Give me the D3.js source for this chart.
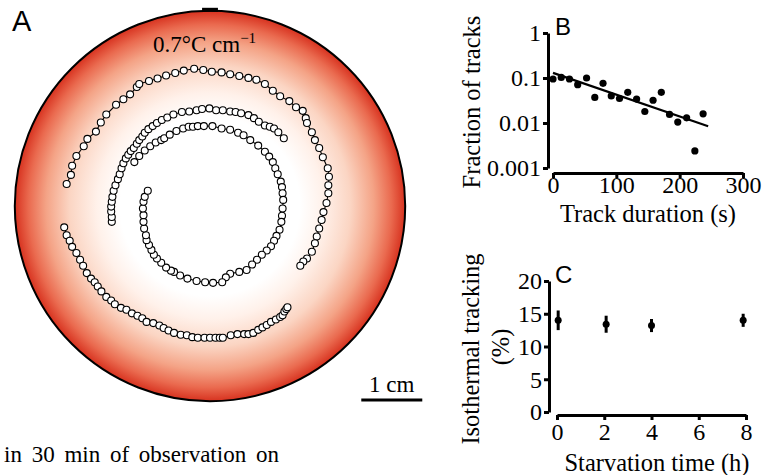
<!DOCTYPE html>
<html>
<head>
<meta charset="utf-8">
<script src="https://cdn.jsdelivr.net/npm/d3@7"></script>
<style>
body { margin: 0; background: #fff; }
svg text { font-family: "Liberation Serif", "Times New Roman", serif; fill: #000; }
.panel-label { font-family: "Liberation Sans", Arial, sans-serif; }
.axis .domain, .axis line { stroke: #000; stroke-width: 3; }
.axis text { font-family: "Liberation Serif", "Times New Roman", serif; font-size: 24px; }
</style>
</head>
<body>
<svg id="fig" width="780" height="475"></svg>
<script>
// ---- panel A: tracks on the plate, positions in cm from plate centre (y up)
var plateRadius = 3.2;
var track1 = [[-2.35,0.36],[-2.28,0.51],[-2.26,0.66],[-2.19,0.82],[-2.07,0.98],[-2.01,1.10],[-1.87,1.22],[-1.79,1.37],[-1.70,1.50],[-1.54,1.66],[-1.42,1.75],[-1.31,1.83],[-1.20,1.95],[-1.16,2.00],[-1.00,2.05],[-0.86,2.09],[-0.72,2.14],[-0.57,2.18],[-0.43,2.22],[-0.26,2.25],[-0.11,2.23],[0.03,2.20],[0.19,2.19],[0.33,2.16],[0.48,2.13],[0.63,2.10],[0.76,2.07],[0.90,2.00],[1.03,1.89],[1.15,1.80],[1.30,1.72],[1.41,1.62],[1.52,1.56],[1.57,1.44],[1.59,1.36],[1.67,1.21],[1.72,1.08],[1.79,0.95],[1.85,0.80],[1.93,0.62],[1.95,0.48],[1.94,0.34],[1.94,0.21],[1.91,0.05],[1.86,-0.10],[1.83,-0.23],[1.79,-0.37],[1.75,-0.50],[1.72,-0.61],[1.67,-0.75],[1.59,-0.86],[1.53,-0.91],[1.48,-0.98]];
var track2 = [[-1.61,-0.26],[-1.61,-0.18],[-1.62,-0.09],[-1.62,-0.01],[-1.61,0.07],[-1.60,0.15],[-1.58,0.25],[-1.55,0.34],[-1.51,0.44],[-1.48,0.52],[-1.45,0.62],[-1.42,0.70],[-1.38,0.78],[-1.34,0.84],[-1.30,0.90],[-1.25,0.95],[-1.20,1.02],[-1.16,1.08],[-1.11,1.14],[-1.07,1.20],[-1.01,1.26],[-0.94,1.31],[-0.87,1.36],[-0.79,1.41],[-0.70,1.45],[-0.60,1.50],[-0.46,1.54],[-0.34,1.55],[-0.22,1.57],[-0.13,1.59],[-0.01,1.60],[0.10,1.57],[0.21,1.57],[0.33,1.55],[0.42,1.54],[0.51,1.52],[0.63,1.49],[0.72,1.44],[0.80,1.38],[0.90,1.32],[0.98,1.30],[1.05,1.27],[1.12,1.21],[1.21,1.11]];
var track3 = [[-1.24,0.72],[-1.16,0.82],[-1.07,0.91],[-0.98,0.98],[-0.89,1.04],[-0.80,1.08],[-0.75,1.11],[-0.66,1.17],[-0.55,1.23],[-0.44,1.27],[-0.35,1.30],[-0.28,1.30],[-0.20,1.31],[-0.10,1.31],[0.04,1.31],[0.19,1.27],[0.33,1.25],[0.46,1.20],[0.55,1.16],[0.66,1.08],[0.79,0.99],[0.90,0.89],[0.97,0.81],[1.03,0.72],[1.07,0.62],[1.11,0.52],[1.16,0.40],[1.18,0.31],[1.19,0.21],[1.20,0.10],[1.19,-0.04],[1.18,-0.16],[1.17,-0.26],[1.14,-0.39],[1.09,-0.49],[1.05,-0.57],[1.00,-0.66],[0.93,-0.73],[0.85,-0.80],[0.77,-0.88],[0.69,-0.96],[0.60,-1.05],[0.48,-1.08],[0.33,-1.11],[0.26,-1.17],[0.20,-1.25],[0.05,-1.26],[-0.08,-1.25],[-0.22,-1.23],[-0.37,-1.19],[-0.49,-1.14],[-0.59,-1.08],[-0.64,-1.06],[-0.72,-1.01],[-0.80,-0.93],[-0.87,-0.86],[-0.92,-0.80],[-0.96,-0.72],[-1.00,-0.64],[-1.04,-0.56],[-1.05,-0.48],[-1.08,-0.37],[-1.09,-0.26],[-1.09,-0.15],[-1.10,-0.04],[-1.09,0.07],[-1.07,0.15],[-1.02,0.25]];
var track4 = [[-2.39,-0.35],[-2.35,-0.48],[-2.30,-0.57],[-2.26,-0.67],[-2.19,-0.77],[-2.13,-0.88],[-2.08,-0.98],[-2.02,-1.10],[-1.95,-1.19],[-1.89,-1.25],[-1.84,-1.32],[-1.78,-1.40],[-1.70,-1.49],[-1.62,-1.55],[-1.56,-1.61],[-1.46,-1.67],[-1.37,-1.70],[-1.28,-1.76],[-1.19,-1.80],[-1.11,-1.84],[-1.04,-1.90],[-0.93,-1.92],[-0.83,-1.96],[-0.76,-2.00],[-0.68,-2.04],[-0.59,-2.08],[-0.48,-2.11],[-0.38,-2.12],[-0.29,-2.15],[-0.20,-2.16],[-0.09,-2.16],[0.00,-2.16],[0.09,-2.16],[0.16,-2.16],[0.21,-2.16],[0.34,-2.12],[0.45,-2.10],[0.56,-2.10],[0.63,-2.10],[0.71,-2.08],[0.79,-2.03],[0.86,-1.99],[0.93,-1.95],[1.00,-1.90],[1.08,-1.86],[1.15,-1.82],[1.19,-1.79],[1.22,-1.73],[1.25,-1.69],[1.27,-1.66]];

// ---- panel B: track duration distribution
var durationB = [0,13,26,39,53,66,79,92,105,118,132,145,158,171,184,197,211,224,237];
var fractionB = [0.095,0.103,0.095,0.071,0.1,0.037,0.076,0.04,0.035,0.048,0.034,0.018,0.032,0.048,0.0155,0.0105,0.013,0.0024,0.016];
var fitB = [[0,0.13],[245,0.0085]];
var yTicksB = [1,0.1,0.01,0.001];
var yTickLabelsB = ['1','0.1','0.01','0.001'];
var xTicksB = [0,100,200,300];

// ---- panel C: isothermal tracking vs starvation
var starvationC = [0.05,2.08,4,7.88];
var trackingC = [14.0,13.4,13.2,14.0];
var errorC = [1.5,1.3,1.0,1.0];
var yTicksC = [0,5,10,15,20];
var xTicksC = [0,2,4,6,8];

var svg = d3.select('#fig');

// ================= A =================
var cx = 210, cy = 206, pxPerCm = 61;
var xs = d3.scaleLinear().domain([-1, 1]).range([cx - pxPerCm, cx + pxPerCm]);
var ys = d3.scaleLinear().domain([-1, 1]).range([cy + pxPerCm, cy - pxPerCm]);

var grad = svg.append('defs').append('radialGradient').attr('id', 'plateGrad')
    .attr('cx', '50%').attr('cy', '50%').attr('r', '50%');
[[0, '#ffffff'], [0.46, '#ffffff'], [0.58, '#fff1ea'], [0.72, '#fbd5c3'], [0.84, '#f4a386'], [0.93, '#ea6a4f'], [1, '#d7321f']]
    .forEach(function(s) {
        grad.append('stop').attr('offset', s[0]).attr('stop-color', s[1]);
    });

svg.append('circle')
    .attr('cx', xs(0)).attr('cy', ys(0))
    .attr('r', xs(plateRadius) - xs(0))
    .attr('fill', 'url(#plateGrad)')
    .attr('stroke', '#000').attr('stroke-width', 2);

svg.append('rect')
    .attr('x', xs(-0.13)).attr('y', ys(plateRadius) - 3)
    .attr('width', xs(0.13) - xs(-0.13)).attr('height', 4)
    .attr('fill', '#000');

var trackLine = d3.line()
    .x(function(d) { return xs(d[0]); })
    .y(function(d) { return ys(d[1]); });

[track1, track2, track3, track4].forEach(function(tr) {
    var g = svg.append('g');
    g.append('path').datum(tr)
        .attr('fill', 'none').attr('stroke', '#000').attr('stroke-width', 1.1)
        .attr('d', trackLine);
    g.selectAll('circle').data(tr).enter().append('circle')
        .attr('cx', function(d) { return xs(d[0]); })
        .attr('cy', function(d) { return ys(d[1]); })
        .attr('r', 3.5)
        .attr('fill', '#fff').attr('stroke', '#000').attr('stroke-width', 1.1);
});

var grad_t = svg.append('text').attr('x', 153).attr('y', 52).style('font-size', '23px');
grad_t.append('tspan').text('0.7°C cm');
grad_t.append('tspan').attr('dy', -9).style('font-size', '15px').text('−1');

// scale bar 1 cm
svg.append('line')
    .attr('x1', xs(2.48)).attr('x2', xs(3.48))
    .attr('y1', 400).attr('y2', 400)
    .attr('stroke', '#000').attr('stroke-width', 3);
svg.append('text').attr('x', xs(2.98)).attr('y', 392)
    .attr('text-anchor', 'middle').style('font-size', '23px').text('1 cm');

svg.append('text').attr('class', 'panel-label')
    .attr('x', 12).attr('y', 31).style('font-size', '29px').text('A');

svg.append('text').attr('x', 4).attr('y', 462)
    .style('font-size', '23px').style('word-spacing', '4px')
    .text('in 30 min of observation on');

// ================= B =================
var xB = d3.scaleLinear().domain([0, 300]).range([553, 743]);
var yB = d3.scaleLog().domain([0.001, 1]).range([168, 33]);

svg.append('g').attr('class', 'axis')
    .attr('transform', 'translate(548,0)')
    .call(d3.axisLeft(yB).tickValues(yTicksB).tickSize(5).tickSizeOuter(0)
        .tickFormat(function(d, i) { return yTickLabelsB[i]; }))
    .call(function(g) { g.selectAll('text').attr('x', -7).attr('dy', '0.33em'); });

svg.append('g').attr('class', 'axis')
    .attr('transform', 'translate(0,173)')
    .call(d3.axisBottom(xB).tickValues(xTicksB).tickSize(5).tickSizeOuter(0))
    .call(function(g) { g.selectAll('text').attr('y', 20).attr('dy', null); });

svg.append('path').datum(fitB)
    .attr('fill', 'none').attr('stroke', '#000').attr('stroke-width', 2.2)
    .attr('d', d3.line().x(function(d) { return xB(d[0]); }).y(function(d) { return yB(d[1]); }));

svg.append('g').selectAll('circle')
    .data(durationB).enter().append('circle')
    .attr('cx', function(d) { return xB(d); })
    .attr('cy', function(d, i) { return yB(fractionB[i]); })
    .attr('r', 3.6).attr('fill', '#000');

svg.append('text').attr('class', 'panel-label')
    .attr('x', 555).attr('y', 35).style('font-size', '24px').text('B');

svg.append('text')
    .attr('transform', 'translate(480,102) rotate(-90)')
    .attr('text-anchor', 'middle').style('font-size', '24.5px')
    .text('Fraction of tracks');

svg.append('text').attr('x', 648).attr('y', 222)
    .attr('text-anchor', 'middle').style('font-size', '24.5px')
    .text('Track duration (s)');

// ================= C =================
var xC = d3.scaleLinear().domain([0, 8]).range([557, 746]);
var yC = d3.scaleLinear().domain([0, 20]).range([412, 281]);

svg.append('g').attr('class', 'axis')
    .attr('transform', 'translate(549,0)')
    .call(d3.axisLeft(yC).tickValues(yTicksC).tickSize(5).tickSizeOuter(0))
    .call(function(g) { g.selectAll('text').attr('x', -7).attr('dy', '0.33em'); });

svg.append('g').attr('class', 'axis')
    .attr('transform', 'translate(0,415)')
    .call(d3.axisBottom(xC).tickValues(xTicksC).tickSize(5).tickSizeOuter(0))
    .call(function(g) { g.selectAll('text').attr('y', 25).attr('dy', null); });

var errG = svg.append('g');
errG.selectAll('line').data(starvationC).enter().append('line')
    .attr('x1', function(d) { return xC(d); })
    .attr('x2', function(d) { return xC(d); })
    .attr('y1', function(d, i) { return yC(trackingC[i] - errorC[i]); })
    .attr('y2', function(d, i) { return yC(trackingC[i] + errorC[i]); })
    .attr('stroke', '#000').attr('stroke-width', 3);
errG.selectAll('circle').data(starvationC).enter().append('circle')
    .attr('cx', function(d) { return xC(d); })
    .attr('cy', function(d, i) { return yC(trackingC[i]); })
    .attr('r', 3.5).attr('fill', '#000');

svg.append('text').attr('class', 'panel-label')
    .attr('x', 555).attr('y', 283).style('font-size', '24px').text('C');

svg.append('text')
    .attr('transform', 'translate(479,349) rotate(-90)')
    .attr('text-anchor', 'middle').style('font-size', '24.5px')
    .text('Isothermal tracking');
svg.append('text')
    .attr('transform', 'translate(509,347) rotate(-90)')
    .attr('text-anchor', 'middle').style('font-size', '24.5px')
    .text('(%)');

svg.append('text').attr('x', 657).attr('y', 471)
    .attr('text-anchor', 'middle').style('font-size', '24.5px')
    .text('Starvation time (h)');
</script>
</body>
</html>
